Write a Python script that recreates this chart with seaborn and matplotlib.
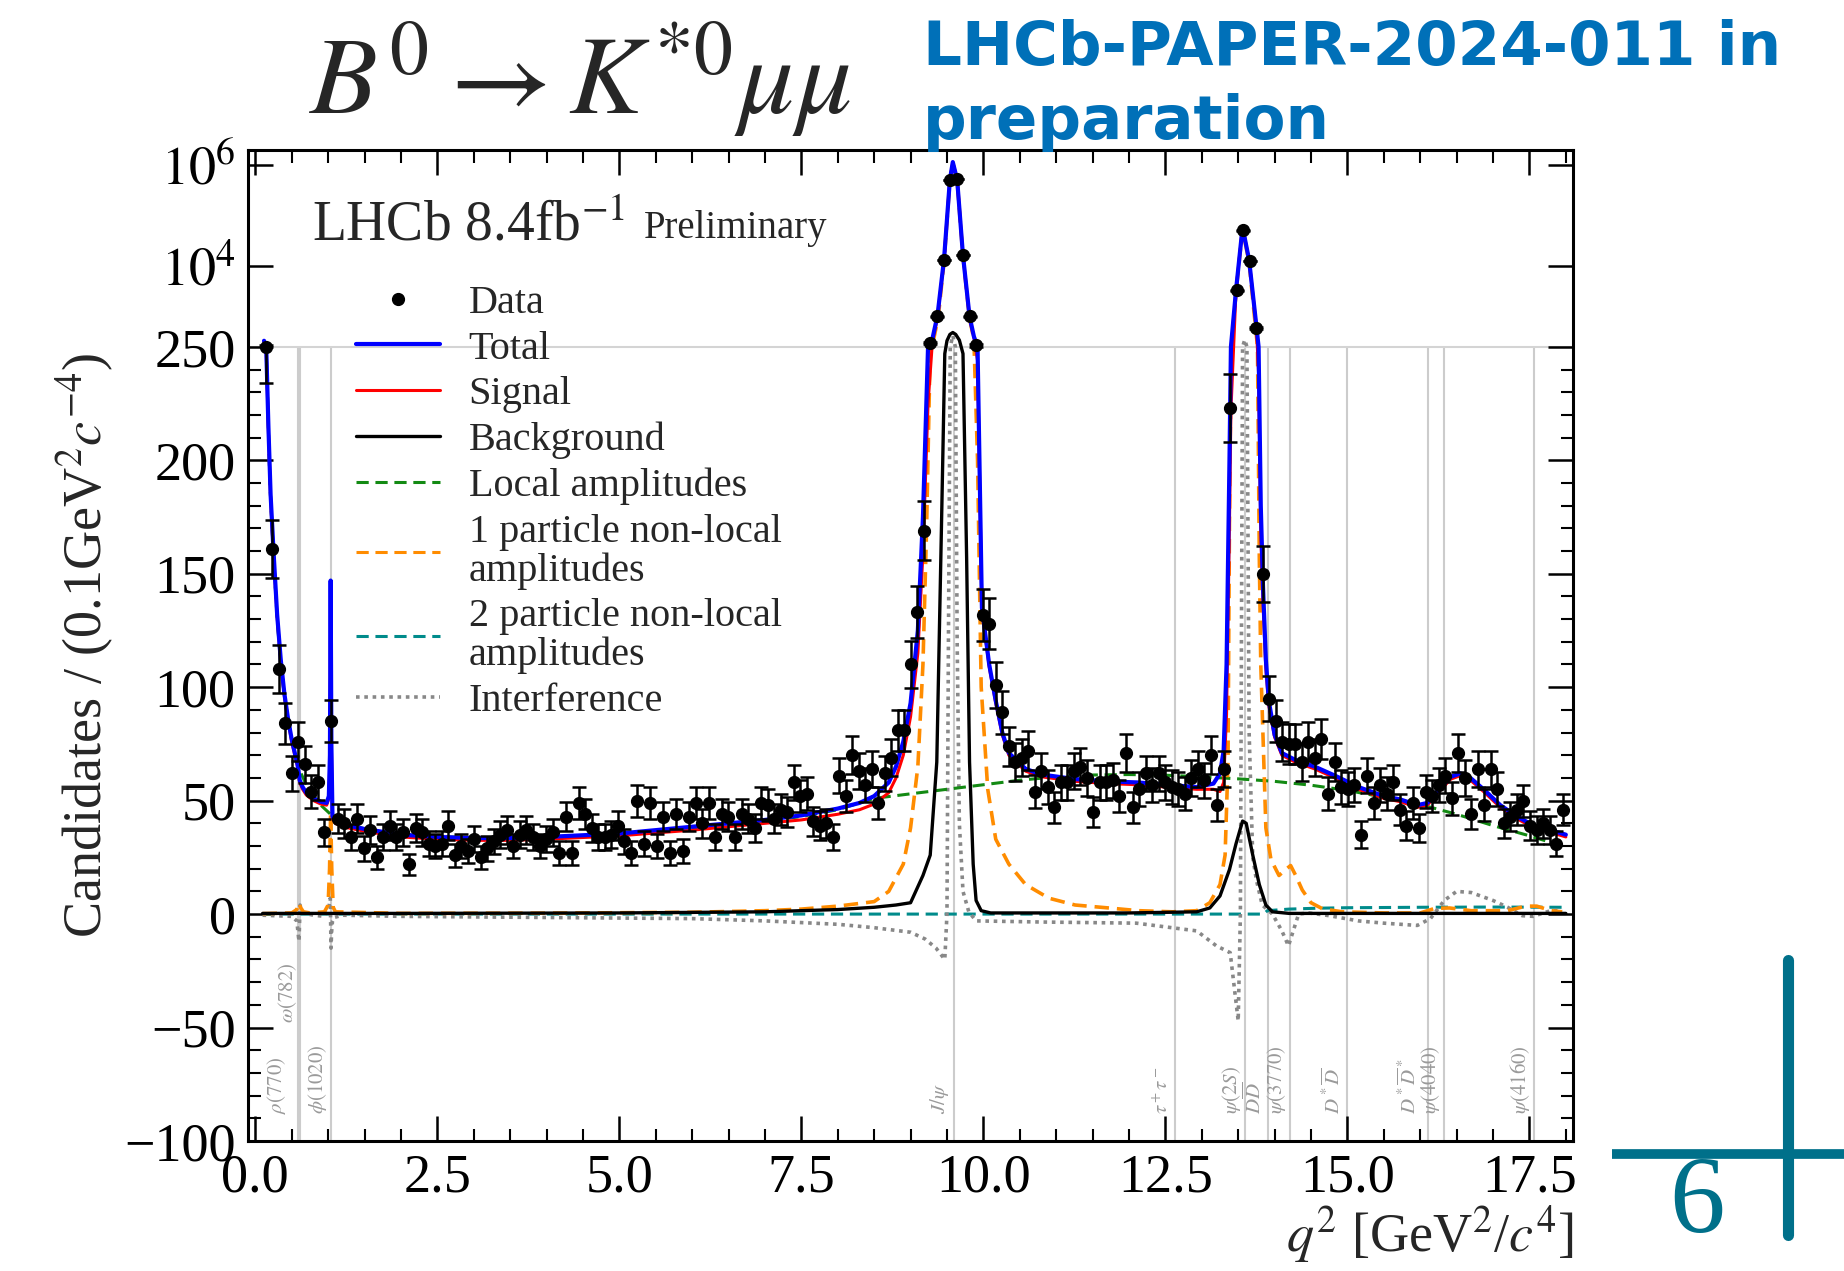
import numpy as np
import matplotlib
matplotlib.use("Agg")
import matplotlib.pyplot as plt
import seaborn as sns
from matplotlib.lines import Line2D
from matplotlib.ticker import FixedLocator, FixedFormatter, MultipleLocator, FormatStrFormatter

# ---------------------------------------------------------------- data
# candidates per bin, 200 bins between q2 = 0.1 and 18.0
counts = np.array([
    250, 161, 108, 84, 62, 76, 66, 54, 58, 36, 85,
    42, 40, 34, 42, 29, 37, 25, 34, 39, 34, 36, 22, 38, 36, 31, 30, 31, 39, 26, 30, 28, 33,
    25, 29, 32, 35, 37, 30, 35, 37, 34, 30, 33, 36, 27, 43, 27, 49, 44, 38, 34, 34, 35, 39,
    32, 27, 50, 31, 49, 30, 43, 27, 44, 28, 43, 49,
    40, 49, 34, 44, 43, 34, 44, 42, 38, 49, 48, 42, 46, 45, 58, 52, 53, 41, 39, 40, 34, 61,
    52, 70, 63, 57, 64, 49, 62, 69, 81, 81, 110, 133, 169,
    300, 1000, 13000, 500000, 520000, 16500, 1000, 270,
    132, 128, 101, 89, 74, 67, 69, 72, 54, 63, 56, 47, 58, 58, 63, 65, 60, 45, 58, 58, 59,
    52, 71, 47, 55,
    62, 57, 62, 58, 56, 55, 53, 60, 64, 59, 70, 48, 64,
    223, 3300, 50000, 12500, 600,
    150, 95, 85, 76, 75, 75, 67, 76, 69, 77, 53, 67, 56, 55,
    57, 35, 61, 49, 57, 53, 58, 46, 39, 49, 38, 54, 52, 57, 61, 51, 71, 60, 44, 64, 48, 64,
    55, 40, 43, 46, 50, 39, 37, 40, 37, 31, 46,
], dtype=float)
q2_lo, q2_hi = 0.1, 18.0

# fit curves (total and signal share one grid)
q2_fit = [0.12, 0.15, 0.18, 0.21, 0.25, 0.30, 0.35, 0.40, 0.45, 0.50, 0.55, 0.58, 0.61, 0.65,
          0.70, 0.80, 0.90, 0.98, 1.01, 1.025, 1.035, 1.045, 1.06, 1.10, 1.20, 1.50, 2.0, 2.5,
          3.0, 3.5, 4.0, 5.0, 6.0, 6.5, 7.0, 7.5, 8.0, 8.3, 8.5, 8.7, 8.8, 8.9, 9.0, 9.1, 9.17,
          9.24, 9.3, 9.37, 9.46, 9.54, 9.58, 9.64, 9.72, 9.81, 9.87, 9.92, 9.98, 10.08, 10.17,
          10.26, 10.35, 10.58, 10.8, 11.26, 11.72, 12.13, 12.5, 12.93, 13.16, 13.25, 13.3,
          13.34, 13.38, 13.40, 13.47, 13.56, 13.65, 13.75, 13.78, 13.81, 13.84, 13.88, 13.92,
          14.0, 14.1, 14.28, 14.55, 14.83, 15.15, 15.5, 15.73, 15.96, 16.1, 16.23, 16.42,
          16.55, 16.69, 16.87, 17.1, 17.33, 17.56, 17.79, 18.0]
total_fit = [330, 250, 215, 185, 160, 132, 112, 97, 86, 77, 70, 66, 59, 56,
             53.5, 51, 49.5, 49, 52, 70, 147, 75, 43, 41, 39.5, 37.5, 35, 34,
             33.5, 33.5, 34, 35.5, 38.5, 40, 41.5, 43.5, 46.5, 49, 52, 58, 65, 76, 93, 125, 175,
             250, 360, 1050, 13600, 500000, 1120000, 500000, 16000, 1000, 400, 250, 135, 110, 94,
             80, 71, 64, 61.5, 59.5, 58.5, 58, 57, 56, 57.5, 62, 72,
             110, 200, 250, 3300, 58000, 12900, 640, 250, 180, 145, 112, 94,
             79, 71, 68, 65, 61, 56, 52, 50.5, 48, 49, 54, 60.5,
             62, 60, 55, 48, 43, 39, 37, 35]
signal_fit = [328, 248, 213, 183, 158, 131, 111, 96, 85, 76, 69, 65, 58, 55,
              52.5, 50, 48.5, 48, 51, 69, 146, 74, 42, 40, 38.5, 36.5, 34, 33,
              32.5, 32.5, 33, 34.5, 37, 38.5, 40, 41.5, 44, 46, 48.5, 53.5, 60, 70, 87, 115, 159,
              225, 315, 950, 13300, 499600, 1119500, 499600, 15750, 933, 378, 244, 134, 109, 93,
              79, 70, 63, 60.5, 58.5, 57.5, 57, 56, 55, 55, 54, 58,
              88, 172, 222, 3270, 57960, 12865, 625, 238, 168, 137, 108, 92,
              78, 70, 67, 64, 60, 55, 51, 49.5, 47, 48, 53, 59.5,
              61, 59, 54, 47, 42, 38, 36, 34]

q2_bkg = [0.1, 2.0, 5.0, 7.0, 8.0, 8.5, 8.8, 9.0, 9.17, 9.27, 9.36, 9.43, 9.47, 9.5, 9.54,
          9.58, 9.62, 9.67, 9.72, 9.77, 9.81, 9.86, 9.9, 9.97, 10.1, 12.0, 12.93, 13.11, 13.25,
          13.38, 13.47, 13.56, 13.61, 13.7, 13.79, 13.88, 13.97, 14.2, 18.0]
background = [0.3, 0.3, 0.5, 1.0, 2.0, 3.0, 4.0, 5.0, 17, 26, 67, 180, 247, 330, 440,
              480, 440, 340, 247, 157, 67, 22, 6, 1.5, 0.5, 0.5, 1.0, 2.7, 8,
              19.6, 31, 41, 40, 26, 13, 4, 1, 0.3, 0.3]

q2_local = [0.12, 0.15, 0.2, 0.25, 0.3, 0.35, 0.4, 0.45, 0.5, 0.6, 0.7, 0.8, 0.9, 1.0, 1.1,
            1.5, 2.0, 3.0, 4.0, 5.0, 6.0, 7.0, 7.5, 8.0, 8.5, 9.0, 9.5, 10.0, 10.5, 11.0, 11.5,
            12.0, 12.5, 13.0, 13.5, 14.0, 14.5, 15.0, 15.5, 16.0, 16.5, 17.0, 17.5, 17.95]
local_amp = [330, 250, 190, 158, 130, 110, 96, 86, 77, 64, 57, 52, 48, 45, 42,
             37.5, 35, 33.5, 33.5, 35, 37.5, 41, 43, 46, 51, 53, 55, 57, 59, 60.5, 61.3,
             61.5, 61.2, 60.5, 59.6, 58.5, 56.8, 54.5, 51.5, 48.3, 44, 39, 34.5, 30]

q2_one = [0.1, 0.5, 0.57, 0.6, 0.62, 0.66, 0.75, 0.95, 1.0, 1.02, 1.035, 1.05, 1.07, 1.1,
          2.0, 4.0, 6.0, 7.0, 7.5, 8.0, 8.5, 8.7, 8.9, 9.0, 9.1, 9.17, 9.22, 9.27, 9.32, 9.38,
          9.46, 9.54, 9.58, 9.64, 9.72, 9.81, 9.87, 9.92, 9.97, 10.06, 10.17, 10.35, 10.58,
          10.9, 11.26, 11.72, 12.13, 12.6, 12.93, 13.11, 13.25, 13.32, 13.36, 13.385, 13.41,
          13.47, 13.56, 13.65, 13.72, 13.765, 13.79, 13.81, 13.88, 13.95, 14.06, 14.15, 14.22,
          14.29, 14.38, 14.5, 14.66, 14.93, 15.5, 16.0, 16.2, 16.4, 16.7, 17.2, 17.45, 17.6,
          17.8, 17.95]
one_particle = [0.2, 0.5, 2, 5, 3, 1, 0.5, 1, 4, 20, 45, 20, 3, 1,
                0.3, 0.4, 0.8, 1.5, 2.2, 3.5, 5.5, 10, 22, 38, 65, 110, 170, 250, 370, 950,
                12000, 470000, 1050000, 470000, 15000, 900, 350, 200, 100, 55, 33, 22, 13,
                7, 4, 2.7, 1.5, 1.0, 1.5, 5, 13, 26, 67, 200, 290,
                3000, 52000, 11500, 1100, 250, 157, 110, 38, 24, 17, 19.6, 21.4,
                17, 10.6, 5, 2.3, 1, 0.5, 0.5, 2.5, 2.7, 1.5, 1.5, 3.5, 3.5,
                1.5, 1.0]

q2_two = [0.1, 13.85, 13.9, 14.2, 14.6, 15.0, 16.0, 17.0, 17.95]
two_particle = [0.0, 0.0, 1.5, 2.2, 2.6, 2.8, 3.0, 3.1, 3.0]

q2_int = [0.1, 0.5, 0.57, 0.6, 0.615, 0.63, 0.66, 0.8, 0.95, 1.01, 1.03, 1.04, 1.048, 1.06,
          1.08, 1.2, 2.0, 4.0, 6.0, 7.0, 8.0, 8.5, 9.0, 9.2, 9.35, 9.47, 9.5, 9.52, 9.545,
          9.58, 9.615, 9.64, 9.67, 9.72, 9.8, 9.9, 10.8, 12.1, 12.93, 13.2, 13.39, 13.5,
          13.53, 13.56, 13.59, 13.62, 13.65, 13.7, 13.75, 13.83, 13.97, 14.1, 14.19, 14.26,
          14.33, 14.47, 14.75, 15.15, 15.5, 15.96, 16.14, 16.33, 16.5, 16.7, 17.0, 17.2,
          17.4, 17.55, 17.8, 17.95]
interference = [-0.5, -1, -3, -12, 4, 2, 0.5, -0.5, -1, 3, 7, -15, -8, -3,
                -1.5, -0.5, -1, -1.5, -2, -3, -4.5, -6, -8, -11, -15, -20, 0, 120, 250,
                420, 250, 120, 40, 10, 1, -3, -3.5, -4, -7.4, -14, -17, -47,
                0, 250, 345, 250, 80, 25, 15, 4, 0, -7.4, -14, -7,
                0, 0.5, -0.7, -3, -4, -5, -2, 6, 10, 9.5, 6, 3,
                -0.7, -1, 1.6, 1.6]

# resonances / thresholds marked on the plot
res_q2 = [0.593, 0.612, 1.039, 9.59, 12.63, 13.59, 13.91, 14.21, 14.99, 16.11, 16.32, 17.56]
res_labels = [r"$\rho(770)$", r"$\omega(782)$", r"$\phi(1020)$", r"$J/\psi$",
              r"$\tau^+\tau^-$", r"$\psi(2S)$", r"$D\overline{D}$", r"$\psi(3770)$",
              r"$D^*\overline{D}$", r"$D^*\overline{D}^*$", r"$\psi(4040)$", r"$\psi(4160)$"]

# label placement (layout only)
res_label_dx = [-0.15, -0.01, -0.03, -0.03, -0.03, -0.03, -0.03, -0.03, -0.03, -0.10, -0.02, -0.03]
res_label_y = [-88, -48, -88, -88, -88, -88, -88, -88, -88, -88, -88, -88]

# ---------------------------------------------------------------- y scale
SPLIT = 250.0     # linear below, log10 above
DECADE = 22.3     # linear units per decade above the split


def forward(y):
    y = np.asarray(y, dtype=float)
    out = np.atleast_1d(y).copy()
    hi = out > SPLIT
    out[hi] = SPLIT + DECADE * np.log10(out[hi] / SPLIT)
    return out.reshape(y.shape)


def inverse(z):
    z = np.asarray(z, dtype=float)
    out = np.atleast_1d(z).copy()
    hi = out > SPLIT
    out[hi] = SPLIT * 10 ** ((out[hi] - SPLIT) / DECADE)
    return out.reshape(z.shape)


# ---------------------------------------------------------------- style
sns.set_theme(style="ticks")
plt.rcParams["font.family"] = ["Liberation Serif", "DejaVu Serif"]
plt.rcParams["mathtext.fontset"] = "stix"
plt.rcParams["axes.linewidth"] = 2.2

fig = plt.figure(figsize=(18.44, 12.71), dpi=100)
ax = fig.add_axes([0.1345, 0.1023, 0.7186, 0.7793])

edges = np.linspace(q2_lo, q2_hi, len(counts) + 1)
centres = 0.5 * (edges[1:] + edges[:-1])

# guide lines
ax.vlines(res_q2, -100, SPLIT, color="#cccccc", lw=1.5, zorder=0.5)
ax.axhline(SPLIT, color="#d4d4d4", lw=1.5, zorder=0.5)
for x, dx, lab, y0 in zip(res_q2, res_label_dx, res_labels, res_label_y):
    ax.text(x + dx, y0, lab, rotation=90, ha="right", va="bottom",
            color="#9a9a9a", fontsize=15, zorder=1)

# components
curves = [
    (q2_two, two_particle, "#008b8b", 2.2, [4, 2.2]),
    (q2_int, interference, "#888888", 2.6, [1, 1.3]),
    (q2_local, local_amp, "#138a13", 2.2, [4, 2.2]),
    (q2_one, one_particle, "#ff8c00", 2.6, [4, 2.2]),
    (q2_bkg, background, "black", 2.4, None),
    (q2_fit, signal_fit, "#ff0000", 2.2, None),
    (q2_fit, total_fit, "#0000ff", 3.0, None),
]
for i, (xs, ys, col, lw, dash) in enumerate(curves):
    sns.lineplot(x=xs, y=ys, ax=ax, color=col, linewidth=lw,
                 estimator=None, sort=False, zorder=2 + 0.1 * i)
    if dash is not None:
        ax.lines[-1].set_dashes(dash)

ax.errorbar(centres, counts, yerr=np.sqrt(counts), fmt="o", color="black",
            ms=8.5, elinewidth=1.8, capsize=5, capthick=1.8, zorder=6)

ax.set_yscale("function", functions=(forward, inverse))
ax.set_xlim(-0.1, 18.1)
ax.set_ylim(-100, 1.9e6)

# ticks
ax.xaxis.set_major_locator(FixedLocator([0, 2.5, 5, 7.5, 10, 12.5, 15, 17.5]))
ax.xaxis.set_major_formatter(FormatStrFormatter("%.1f"))
ax.xaxis.set_minor_locator(MultipleLocator(0.5))
y_major = [-100, -50, 0, 50, 100, 150, 200, 250, 1e4, 1e6]
y_major_labels = ["\u2212100", "\u221250", "0", "50", "100", "150", "200", "250",
                  r"$10^4$", r"$10^6$"]
ax.yaxis.set_major_locator(FixedLocator(y_major))
ax.yaxis.set_major_formatter(FixedFormatter(y_major_labels))
ax.yaxis.set_minor_locator(FixedLocator([v for v in range(-100, 251, 10) if v % 50]))
ax.tick_params(which="both", direction="in", top=True, right=True, colors="black")
ax.tick_params(which="major", length=18, width=1.8, labelsize=39, pad=9)
ax.tick_params(which="minor", length=9, width=1.5)
for s in ax.spines.values():
    s.set_color("black")
    s.set_linewidth(2.2)

ax.set_ylabel(r"Candidates / (0.1GeV$^2c^{-4}$)", fontsize=39)
ax.yaxis.set_label_coords(-0.100, 0.5)
ax.text(1.0, -0.095, r"$q^2$ [GeV$^2$/$c^4$]", transform=ax.transAxes,
        ha="right", va="center", fontsize=39)

ax.text(0.048, 0.909, r"LHCb 8.4fb$^{-1}$", transform=ax.transAxes,
        fontsize=40, va="baseline")
ax.text(0.299, 0.912, "Preliminary", transform=ax.transAxes,
        fontsize=28, va="baseline")

# legend
handles = [
    Line2D([], [], marker="o", color="black", ls="none", ms=8.5),
    Line2D([], [], color="#0000ff", lw=3.0),
    Line2D([], [], color="#ff0000", lw=2.2),
    Line2D([], [], color="black", lw=2.4),
    Line2D([], [], color="#138a13", lw=2.2, dashes=[4, 2.2]),
    Line2D([], [], color="#ff8c00", lw=2.2, dashes=[4, 2.2]),
    Line2D([], [], color="#008b8b", lw=2.2, dashes=[4, 2.2]),
    Line2D([], [], color="#888888", lw=2.6, dashes=[1, 1.3]),
]
labels = ["Data", "Total", "Signal", "Background", "Local amplitudes",
          "1 particle non-local\namplitudes", "2 particle non-local\namplitudes",
          "Interference"]
leg = ax.legend(handles, labels, loc="upper left", bbox_to_anchor=(0.193, 0.776),
                bbox_transform=fig.transFigure, frameon=False, fontsize=29,
                handlelength=2.1, handletextpad=0.70, labelspacing=0.21,
                borderpad=0, borderaxespad=0)
for t in leg.get_texts():
    t.set_linespacing(1.06)

# headers
fig.text(0.3145, 0.910, r"$B^0 \rightarrow K^{*0}\mu\mu$", fontsize=80,
         ha="center", va="baseline")
fig.text(0.5005, 0.949, "LHCb-PAPER-2024-011 in", fontsize=44, fontweight="bold",
         color="#0070b8", family=["DejaVu Sans"], va="baseline")
fig.text(0.5005, 0.891, "preparation", fontsize=44, fontweight="bold",
         color="#0070b8", family=["DejaVu Sans"], va="baseline")

# page mark bottom right
teal = "#00708a"
fig.add_artist(Line2D([0.874, 1.0], [0.092, 0.092], transform=fig.transFigure,
                      color=teal, lw=7, solid_capstyle="butt"))
fig.add_artist(Line2D([0.9696, 0.9696], [0.0283, 0.2447], transform=fig.transFigure,
                      color=teal, lw=8, solid_capstyle="round"))
fig.text(0.9203, 0.0519, "6", fontsize=80, color=teal, ha="center", va="center")

fig.savefig("out.png", dpi=100)
